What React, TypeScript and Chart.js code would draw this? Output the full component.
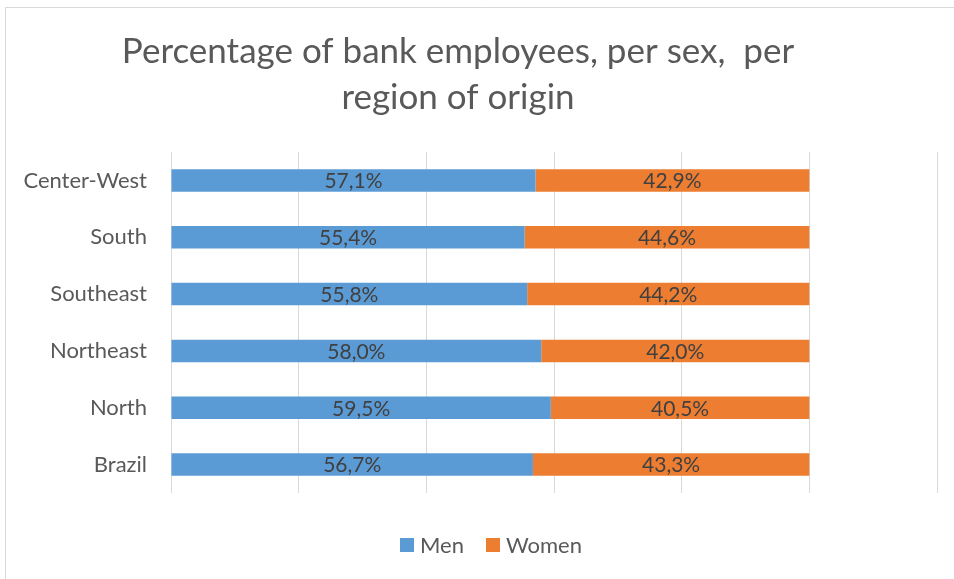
import React, { useEffect, useRef } from "react";
import { Chart, registerables } from "chart.js";

Chart.register(...registerables);

const categories = ["Center-West", "South", "Southeast", "Northeast", "North", "Brazil"];
const menValues = [57.1, 55.4, 55.8, 58.0, 59.5, 56.7];
const womenValues = [42.9, 44.6, 44.2, 42.0, 40.5, 43.3];
const titleLines = ["Percentage of bank employees, per sex,  per", "region of origin"];
const seriesNames = ["Men", "Women"];
const seriesColors = ["#5B9BD5", "#ED7D31"];

const FONT = "Lato, 'Open Sans', sans-serif";

const framePlugin = {
  id: "frame",
  beforeDraw(chart: any) {
    const ctx = chart.ctx;
    ctx.save();
    ctx.fillStyle = "#ffffff";
    ctx.fillRect(0, 0, chart.width, chart.height);
    ctx.strokeStyle = "#D9D9D9";
    ctx.lineWidth = 1;
    ctx.beginPath();
    ctx.moveTo(5.5, chart.height + 5);
    ctx.lineTo(5.5, 7.5);
    ctx.lineTo(chart.width + 5, 7.5);
    ctx.stroke();
    ctx.restore();
  },
};

const titlePlugin = {
  id: "customTitle",
  afterDraw(chart: any) {
    const ctx = chart.ctx;
    ctx.save();
    ctx.font = `35px ${FONT}`;
    ctx.fillStyle = "#595959";
    ctx.textAlign = "center";
    ctx.textBaseline = "middle";
    ctx.fillText(titleLines[0], 458, 52);
    ctx.fillText(titleLines[1], 458, 98);
    ctx.restore();
  },
};

const legendPlugin = {
  id: "customLegend",
  afterDraw(chart: any) {
    const ctx = chart.ctx;
    ctx.save();
    ctx.font = `22px ${FONT}`;
    ctx.textBaseline = "middle";
    ctx.textAlign = "left";
    const box = 14;
    const gap = 6;
    const spacing = 22;
    const items = chart.data.datasets.map((ds: any) => ({
      label: ds.label as string,
      color: ds.backgroundColor as string,
      w: ctx.measureText(ds.label).width,
    }));
    const total = items.reduce((s: number, it: any) => s + box + gap + it.w, 0) + spacing * (items.length - 1);
    let x = 491 - total / 2;
    const cy = 545;
    items.forEach((it: any) => {
      ctx.fillStyle = it.color;
      ctx.fillRect(x, cy - box / 2, box, box);
      ctx.fillStyle = "#595959";
      ctx.fillText(it.label, x + box + gap, cy + 1);
      x += box + gap + it.w + spacing;
    });
    ctx.restore();
  },
};

const dataLabelPlugin = {
  id: "dataLabels",
  afterDatasetsDraw(chart: any) {
    const ctx = chart.ctx;
    ctx.save();
    ctx.font = `21px ${FONT}`;
    ctx.fillStyle = "#404040";
    ctx.textAlign = "center";
    ctx.textBaseline = "middle";
    chart.data.datasets.forEach((ds: any, di: number) => {
      const meta = chart.getDatasetMeta(di);
      meta.data.forEach((bar: any, i: number) => {
        const v = ds.data[i] as number;
        const x = (bar.x + bar.base) / 2;
        const txt = v.toFixed(1).replace(".", ",") + "%";
        ctx.fillText(txt, x, bar.y + 1);
      });
    });
    ctx.restore();
  },
};

export default function App() {
  const ref = useRef<HTMLCanvasElement | null>(null);
  useEffect(() => {
    if (!ref.current) return;
    const chart = new Chart(ref.current, {
      type: "bar",
      data: {
        labels: categories,
        datasets: [
          {
            label: seriesNames[0],
            data: menValues,
            backgroundColor: seriesColors[0],
            barPercentage: 0.5,
            categoryPercentage: 0.79,
          },
          {
            label: seriesNames[1],
            data: womenValues,
            backgroundColor: seriesColors[1],
            barPercentage: 0.5,
            categoryPercentage: 0.79,
          },
        ],
      },
      options: {
        indexAxis: "y",
        responsive: false,
        animation: false,
        layout: { padding: { left: 0, right: 17, top: 152, bottom: 86 } },
        scales: {
          x: {
            stacked: true,
            min: 0,
            max: 120,
            ticks: { display: false, stepSize: 20 },
            grid: { color: "#D9D9D9", drawTicks: false },
            border: { display: false },
          },
          y: {
            stacked: true,
            grid: { display: false, drawTicks: false },
            border: { display: false },
            ticks: { color: "#595959", font: { family: FONT, size: 22 }, padding: 24 },
            afterFit(scale: any) {
              scale.width = 171;
            },
          },
        },
        plugins: {
          title: { display: false },
          tooltip: { enabled: false },
          legend: { display: false },
        },
      },
      plugins: [framePlugin, titlePlugin, dataLabelPlugin, legendPlugin],
    });
    return () => chart.destroy();
  }, []);
  return (
    <div style={{ position: "fixed", left: 0, top: 0, width: 954, height: 579, overflow: "hidden", background: "#fff" }}>
      <canvas ref={ref} width={954} height={579} style={{ display: "block" }} />
    </div>
  );
}
